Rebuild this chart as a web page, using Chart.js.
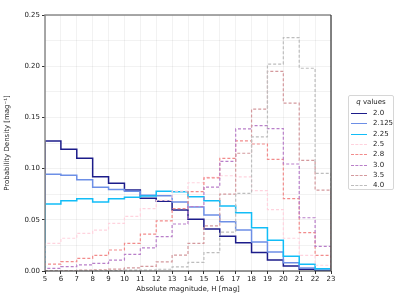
<!DOCTYPE html>
<html>
<head>
<meta charset="utf-8">
<script src="https://cdn.jsdelivr.net/npm/chart.js@4.4.1/dist/chart.umd.min.js"></script>
<style>
  body { margin: 0; background: #fff; }
  #wrap { position: relative; width: 407px; height: 305px; }
  #legend {
    position: absolute; left: 348px; top: 95px; width: 46px; height: 95px;
    box-sizing: border-box; border: 1px solid #d6d6d6; border-radius: 2px;
    font-family: "DejaVu Sans", sans-serif; font-size: 7px; color: #222; background: #fff;
  }
  #legend .title { position: absolute; top: 2px; left: 0; width: 100%; text-align: center; }
  #legend .row { position: absolute; left: 2px; height: 10px; }
  #legend .swatch { position: absolute; left: 0; top: 4px; width: 16px; height: 0; }
  #legend .label { position: absolute; left: 22px; top: 0; line-height: 9px; white-space: nowrap; }
</style>
</head>
<body>
<div id="wrap">
  <canvas id="chart" width="407" height="305"></canvas>
  <div id="legend"></div>
</div>
<script>
// bin edges for absolute magnitude H
const hEdges = [5, 6, 7, 8, 9, 10, 11, 12, 13, 14, 15, 16, 17, 18, 19, 20, 21, 22, 23];

// q values (legend labels)
const qLabels = ['2.0', '2.125', '2.25', '2.5', '2.8', '3.0', '3.5', '4.0'];

// probability density per bin
const q20   = [0.127, 0.119, 0.110, 0.092, 0.0856, 0.079, 0.071, 0.068, 0.0595, 0.0505, 0.041, 0.034, 0.0277, 0.018, 0.0107, 0.0049, 0.0017, 0.0003];
const q2125 = [0.0944, 0.0934, 0.089, 0.0817, 0.0797, 0.078, 0.074, 0.0735, 0.0674, 0.0625, 0.0547, 0.048, 0.040, 0.0283, 0.0186, 0.0081, 0.003, 0.001];
const q225  = [0.0654, 0.0687, 0.0706, 0.0674, 0.0706, 0.072, 0.0732, 0.078, 0.0775, 0.0726, 0.0687, 0.0635, 0.057, 0.0423, 0.030, 0.0143, 0.0065, 0.0023];
const q25   = [0.027, 0.032, 0.0368, 0.040, 0.0466, 0.0534, 0.061, 0.069, 0.078, 0.0862, 0.0915, 0.093, 0.092, 0.0784, 0.060, 0.032, 0.0153, 0.0056];
const q28   = [0.0068, 0.0091, 0.0124, 0.0153, 0.0205, 0.027, 0.036, 0.049, 0.061, 0.0775, 0.091, 0.110, 0.127, 0.124, 0.109, 0.0706, 0.0374, 0.0153];
const q30   = [0.0026, 0.0042, 0.0059, 0.0075, 0.0107, 0.0163, 0.0225, 0.0335, 0.0459, 0.063, 0.082, 0.107, 0.1387, 0.142, 0.139, 0.1045, 0.052, 0.024];
const q35   = [0.0003, 0.0005, 0.0008, 0.0012, 0.0018, 0.003, 0.0045, 0.009, 0.0156, 0.027, 0.044, 0.075, 0.115, 0.158, 0.195, 0.164, 0.108, 0.079];
const q40   = [0.0001, 0.0001, 0.0002, 0.0003, 0.0005, 0.0008, 0.001, 0.0017, 0.004, 0.0085, 0.018, 0.038, 0.0758, 0.131, 0.202, 0.228, 0.198, 0.0954];

const seriesValues = [q20, q2125, q225, q25, q28, q30, q35, q40];
const colours = ['#1c1c8a', '#6d8fe6', '#12bdf7', '#ffd3de', '#f28b8b', '#b97fc9', '#d4999d', '#bdbdbd'];
const dashed  = [false, false, false, true, true, true, true, true];

// histogram outline: up from zero at the first edge, down to zero at the last
function stepPoints(vals) {
    var pts = [{ x: hEdges[0], y: 0 }];
    vals.forEach((v, i) => pts.push({ x: hEdges[i], y: v }));
    pts.push({ x: hEdges[vals.length], y: vals[vals.length - 1] });
    pts.push({ x: hEdges[vals.length], y: 0 });
    return pts;
}

const datasets = seriesValues.map((vals, i) => ({
    label: qLabels[i],
    data: stepPoints(vals),
    borderColor: colours[i],
    borderWidth: dashed[i] ? 1.2 : 1.5,
    borderDash: dashed[i] ? [3, 2] : [],
    stepped: 'before',
    pointRadius: 0,
    fill: false,
    order: seriesValues.length - i // later series drawn on top
}));

// spines: top/left grey, right/bottom dark
const framePlugin = {
    id: 'frame',
    afterDatasetsDraw(chart) {
        const a = chart.chartArea, c = chart.ctx;
        c.save();
        c.lineWidth = 1.5;
        c.strokeStyle = '#8a8a8a';
        c.beginPath(); c.moveTo(a.left, a.bottom); c.lineTo(a.left, a.top); c.lineTo(a.right, a.top); c.stroke();
        c.lineWidth = 1.2;
        c.strokeStyle = '#333333';
        c.beginPath(); c.moveTo(a.right, a.top); c.lineTo(a.right, a.bottom); c.lineTo(a.left, a.bottom); c.stroke();
        c.restore();
    }
};

const tickFont = { family: 'DejaVu Sans', size: 7 };

new Chart(document.getElementById('chart'), {
    type: 'line',
    data: { datasets: datasets },
    plugins: [framePlugin],
    options: {
        responsive: false,
        animation: false,
        layout: { padding: { top: 15, right: 76, left: 0, bottom: 0 } },
        plugins: { legend: { display: false }, tooltip: { enabled: false } },
        scales: {
            x: {
                type: 'linear', min: 5, max: 23,
                ticks: { stepSize: 1, font: tickFont, color: '#222', padding: 1, maxRotation: 0 },
                grid: { color: 'rgba(0,0,0,0.05)', tickColor: '#333', tickLength: 3 },
                border: { display: false },
                title: { display: true, text: 'Absolute magnitude, H [mag]', font: tickFont, color: '#222', padding: { top: 2, bottom: 12 } },
                afterFit(scale) { scale.height = 34; }
            },
            y: {
                min: 0, max: 0.25,
                ticks: {
                    stepSize: 0.025, font: tickFont, color: '#222', padding: 2,
                    callback: v => (Math.round(v * 1000) % 50 === 0 ? v.toFixed(2) : '')
                },
                grid: {
                    color: 'rgba(0,0,0,0.05)',
                    tickColor: ctx => (Math.round(ctx.tick.value * 1000) % 50 === 0 ? '#333' : 'rgba(0,0,0,0)'),
                    tickLength: 3
                },
                border: { display: false },
                title: { display: true, text: 'Probability Density [mag\u207B\u00B9]', font: tickFont, color: '#222', padding: { top: 3, bottom: 2 } },
                afterFit(scale) { scale.width = 45; }
            }
        }
    }
});

// legend box
const legend = document.getElementById('legend');
legend.innerHTML = '<div class="title"><i>q</i> values</div>';
qLabels.forEach((lab, i) => {
    const row = document.createElement('div');
    row.className = 'row';
    row.style.top = (13 + i * 10.3) + 'px';
    const sw = document.createElement('div');
    sw.className = 'swatch';
    sw.style.borderTop = (dashed[i] ? '1px dashed ' : '1.5px solid ') + colours[i];
    const tx = document.createElement('div');
    tx.className = 'label';
    tx.textContent = lab;
    row.appendChild(sw);
    row.appendChild(tx);
    legend.appendChild(row);
});
</script>
</body>
</html>
